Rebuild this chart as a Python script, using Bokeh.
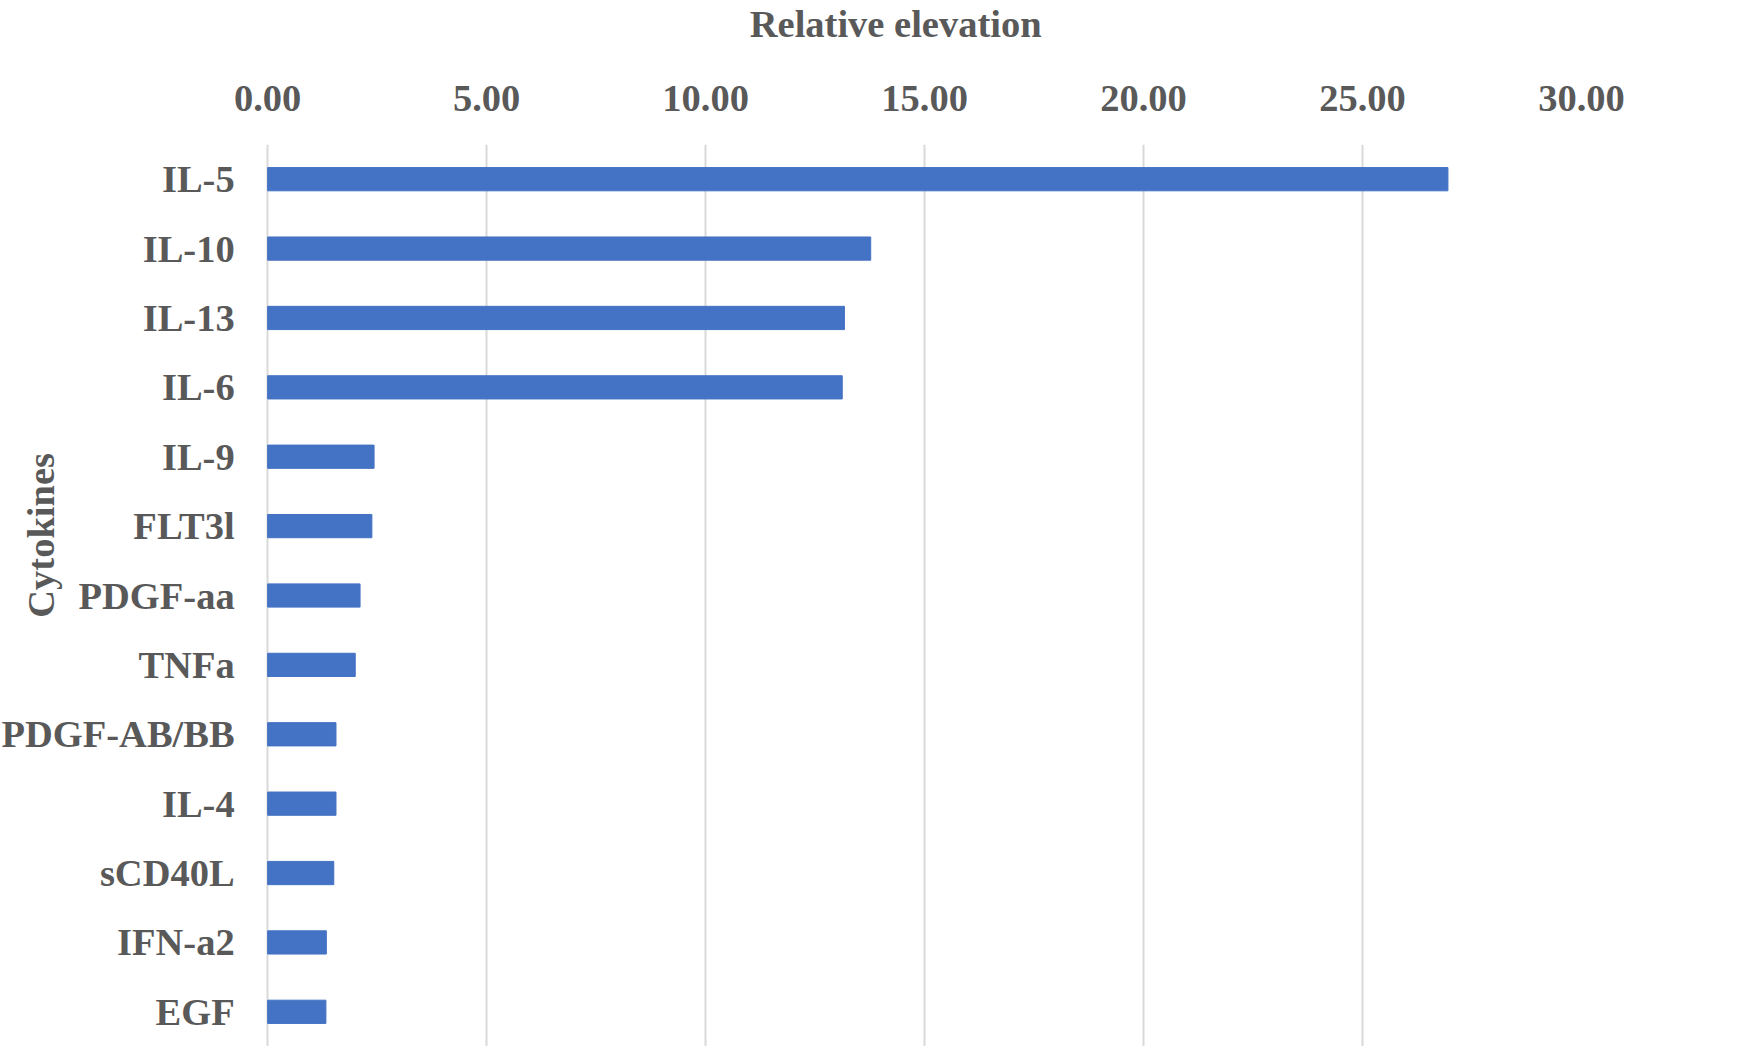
from bokeh.plotting import figure
from bokeh.layouts import column
from bokeh.models import (FactorRange, Range1d, FixedTicker, NumeralTickFormatter,
                          LinearAxis, Label, ColumnDataSource)
from bokeh.core.properties import value
from bokeh.embed import file_html
from bokeh.resources import INLINE

cytokines = ["IL-5", "IL-10", "IL-13", "IL-6", "IL-9", "FLT3l", "PDGF-aa", "TNFa",
             "PDGF-AB/BB", "IL-4", "sCD40L", "IFN-a2", "EGF"]
elevation = [26.95, 13.77, 13.17, 13.12, 2.43, 2.38, 2.11, 2.00, 1.56, 1.56, 1.51, 1.34, 1.33]
x_ticks = [0, 5, 10, 15, 20, 25, 30]
x_title = "Relative elevation"
y_title = "Cytokines"

FONT = "Liberation Serif"
TXT = "#595959"
GRID = "#d9d9d9"
BAR = "#4472C4"
FS = "38.5px"

src = ColumnDataSource(dict(cat=cytokines, val=elevation, base=[0] * len(cytokines)))
xr = Range1d(-6.1, 30)

# strip holding the chart title, sharing the chart's x range
t = figure(width=1742, height=50, output_backend="svg", toolbar_location=None,
           x_range=xr, y_range=Range1d(0, 1), x_axis_location=None, y_axis_location=None,
           min_border_left=0, min_border_right=161, min_border_top=0, min_border_bottom=0)
t.outline_line_color = None
t.xgrid.visible = False
t.ygrid.visible = False
t.add_layout(Label(x=14.34, y=0.534, text=x_title, text_align="center",
                   text_baseline="alphabetic", text_font=FONT,
                   text_font_style="bold", text_font_size=FS, text_color=TXT))

p = figure(width=1742, height=996, output_backend="svg", toolbar_location=None,
           y_range=FactorRange(factors=list(reversed(cytokines))),
           x_range=xr, x_axis_location=None, y_axis_location=None,
           min_border_left=0, min_border_right=161, min_border_top=94,
           min_border_bottom=0)
p.outline_line_color = None
p.background_fill_color = "white"
p.border_fill_color = "white"

p.hbar(y="cat", right="val", left="base", height=0.335, color=BAR, source=src)

# category labels, right-aligned against the zero line
p.text(x="base", y="cat", text="cat", source=src, x_offset=-33,
       text_align="right", text_baseline="middle", text_font=value(FONT),
       text_font_style="bold", text_font_size=FS, text_color=TXT)

# top x axis
xa = LinearAxis(ticker=FixedTicker(ticks=x_ticks),
                formatter=NumeralTickFormatter(format="0.00"))
xa.axis_line_color = None
xa.major_tick_line_color = None
xa.minor_tick_line_color = None
xa.major_tick_out = 0
xa.major_label_standoff = 34
xa.major_label_text_font = FONT
xa.major_label_text_font_style = "bold"
xa.major_label_text_font_size = FS
xa.major_label_text_color = TXT
p.add_layout(xa, "above")

p.xgrid.ticker = xa.ticker
p.xgrid.grid_line_color = GRID
p.xgrid.grid_line_width = 2
p.ygrid.grid_line_color = None

p.add_layout(Label(x=-5.18, y=7.367, text=y_title, angle=1.5707963, text_align="center",
                   text_baseline="middle", text_font=FONT,
                   text_font_style="bold", text_font_size=FS, text_color=TXT))

layout = column(t, p, spacing=0)
open("out.html", "w").write(file_html(layout, INLINE))
